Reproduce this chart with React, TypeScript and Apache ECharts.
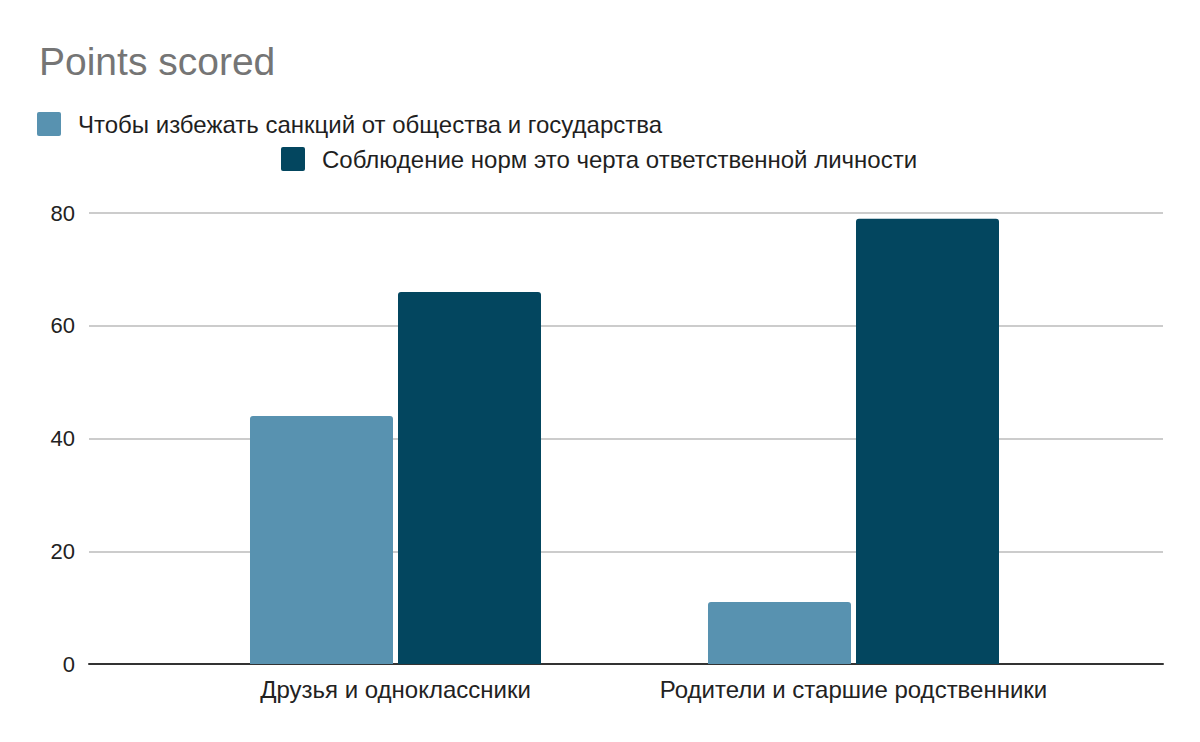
import React, { useEffect, useRef } from "react";
import * as echarts from "echarts";

const title = "Points scored";
const categories = ["Друзья и одноклассники", "Родители и старшие родственники"];
const seriesNames = [
  "Чтобы избежать санкций от общества и государства",
  "Соблюдение норм это черта ответственной личности",
];
const avoidSanctions = [44, 11];
const responsibleTrait = [66, 79];
const yTicks = { min: 0, max: 80, interval: 20 };

const colors = ["#5892b0", "#03465f"];
const FONT = "'Liberation Sans', Arial, sans-serif";
const ICON =
  "path://M2,0 H22 A2,2 0 0 1 24,2 V22 A2,2 0 0 1 22,24 H2 A2,2 0 0 1 0,22 V2 A2,2 0 0 1 2,0 Z";

export default function App() {
  const ref = useRef<HTMLDivElement>(null);
  useEffect(() => {
    if (!ref.current) return;
    const chart = echarts.init(ref.current, undefined, { renderer: "svg" });
    const legendText = { fontFamily: FONT, fontSize: 24, color: "#1f1f1f", padding: [0, 0, 0, 12] };
    chart.setOption({
      animation: false,
      backgroundColor: "#ffffff",
      textStyle: { fontFamily: FONT },
      title: {
        text: title,
        left: 39,
        top: 42,
        padding: 0,
        textStyle: { fontFamily: FONT, fontSize: 39, fontWeight: "normal", color: "#757575" },
      },
      legend: [
        {
          data: [seriesNames[0]],
          left: 37,
          top: 112,
          padding: 0,
          itemWidth: 24,
          itemHeight: 24,
          icon: ICON,
          textStyle: legendText,
        },
        {
          data: [seriesNames[1]],
          left: 281,
          top: 147,
          padding: 0,
          itemWidth: 24,
          itemHeight: 24,
          icon: ICON,
          textStyle: legendText,
        },
      ],
      grid: [
        { left: 89, right: 37, top: 213, bottom: 78, containLabel: false },
        { left: 166.5, right: 117.5, top: 213, bottom: 78, containLabel: false },
      ],
      xAxis: [
        {
          gridIndex: 0,
          type: "value",
          min: 0,
          max: 1,
          axisLine: { show: true, onZero: false, lineStyle: { color: "#333333", width: 2 } },
          axisTick: { show: false },
          axisLabel: { show: false },
          splitLine: { show: false },
        },
        {
          gridIndex: 1,
          type: "category",
          data: categories,
          axisLine: { show: false },
          axisTick: { show: false },
          axisLabel: { interval: 0, fontFamily: FONT, fontSize: 24, color: "#222222", margin: 13 },
          splitLine: { show: false },
        },
      ],
      yAxis: [
        {
          gridIndex: 0,
          type: "value",
          min: yTicks.min,
          max: yTicks.max,
          interval: yTicks.interval,
          axisLine: { show: false },
          axisTick: { show: false },
          axisLabel: { fontFamily: FONT, fontSize: 22, color: "#222222", margin: 14 },
          splitLine: { show: true, lineStyle: { color: "#cccccc", width: 2 } },
        },
        {
          gridIndex: 1,
          type: "value",
          min: yTicks.min,
          max: yTicks.max,
          interval: yTicks.interval,
          show: false,
          splitLine: { show: false },
        },
      ],
      series: [
        {
          name: seriesNames[0],
          type: "bar",
          xAxisIndex: 1,
          yAxisIndex: 1,
          data: avoidSanctions,
          barWidth: 143,
          barGap: "3.5%",
          itemStyle: { color: colors[0], borderRadius: [3, 3, 0, 0] },
        },
        {
          name: seriesNames[1],
          type: "bar",
          xAxisIndex: 1,
          yAxisIndex: 1,
          data: responsibleTrait,
          barWidth: 143,
          barGap: "3.5%",
          itemStyle: { color: colors[1], borderRadius: [3, 3, 0, 0] },
        },
      ],
    });
    return () => chart.dispose();
  }, []);
  return <div ref={ref} style={{ width: 1200, height: 742, margin: -8 }} />;
}
